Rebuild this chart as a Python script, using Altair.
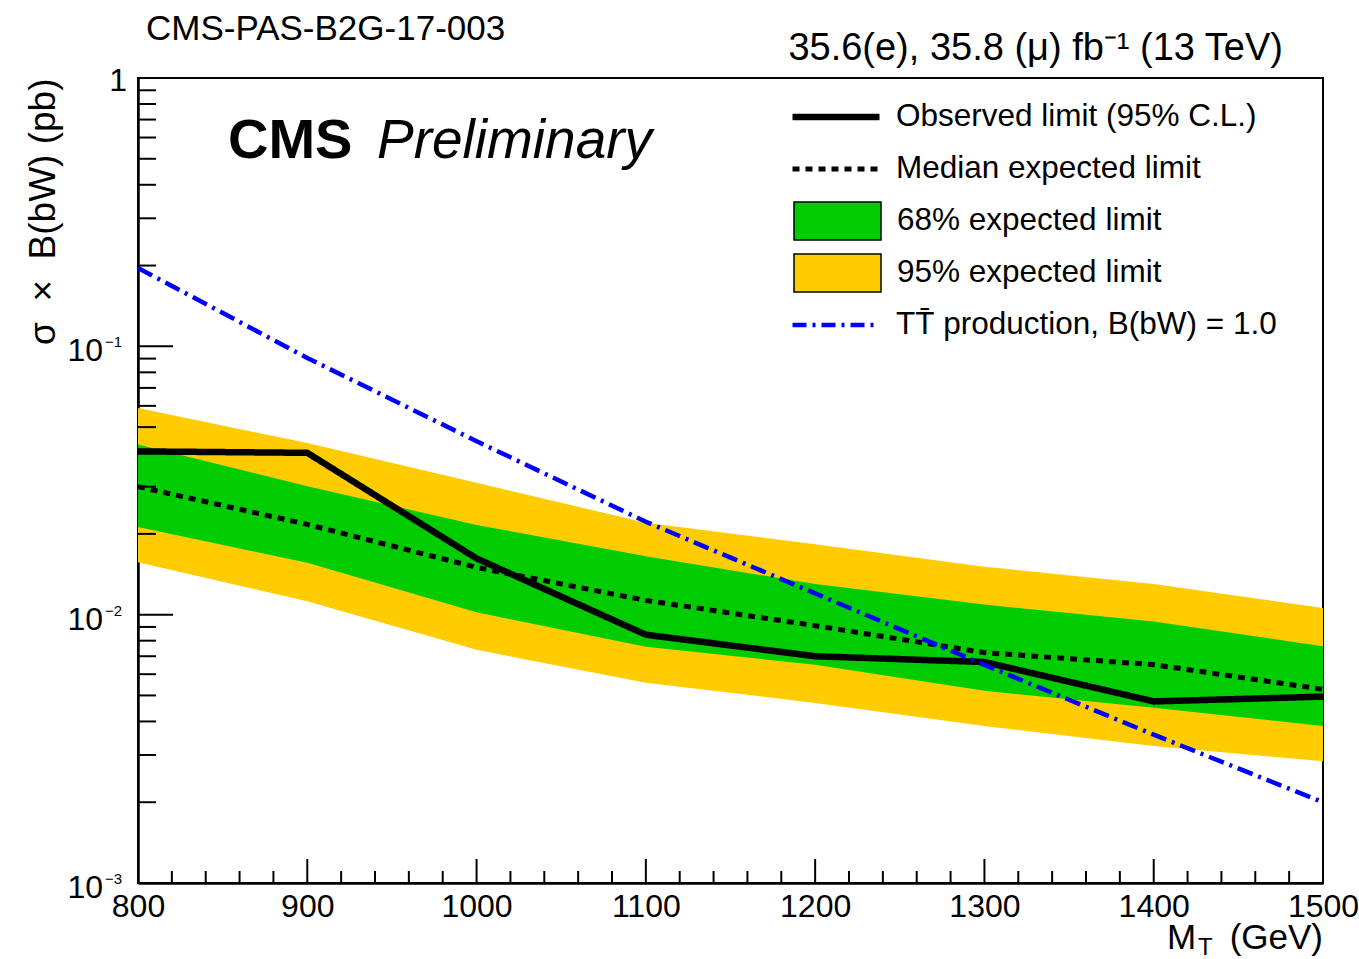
import altair as alt
import pandas as pd

# ---- limit results (pb) vs. T mass (GeV) ----
mass = [800, 900, 1000, 1100, 1200, 1300, 1400, 1500]
observed = [0.0406, 0.0401, 0.0162, 0.00842, 0.0070, 0.00666, 0.00475, 0.00495]
expected = [0.0300, 0.0217, 0.0150, 0.0113, 0.0091, 0.00722, 0.00651, 0.00527]
exp68_lo = [0.0212, 0.0156, 0.0102, 0.0076, 0.0065, 0.0052, 0.0045, 0.00385]
exp68_hi = [0.0431, 0.0301, 0.0216, 0.0165, 0.0130, 0.0109, 0.00944, 0.00762]
exp95_lo = [0.01567, 0.01122, 0.0074, 0.00557, 0.00469, 0.00385, 0.00324, 0.00284]
exp95_hi = [0.0589, 0.0436, 0.0310, 0.0220, 0.0183, 0.0151, 0.0130, 0.0106]
xsec_tt = [0.196, 0.0905, 0.0443, 0.0222, 0.0120, 0.0065, 0.00357, 0.0020]

# ---- axis ticks ----
x_major = [800, 900, 1000, 1100, 1200, 1300, 1400, 1500]
x_minor = [m + d for m in range(800, 1500, 100) for d in (20, 40, 60, 80)]
y_decades = [0.001, 0.01, 0.1]
y_exponents = ["\u22123", "\u22122", "\u22121"]
y_top = [1.0]
y_major = y_decades + y_top
y_minor = [k * 10.0 ** e for e in (-3, -2, -1) for k in range(2, 10)]

# ---- legend labels ----
LINE_LABELS = ["Observed limit (95% C.L.)", "Median expected limit"]
BAND_LABELS = ["68% expected limit", "95% expected limit"]
TT_LABEL = "TT\u0304 production, B(bW) = 1.0"

GREEN = "#00cc00"
YELLOW = "#ffcc00"
BLUE = "#0000ff"
FONT = "Liberation Sans"
NBSP = "\u00a0"
W, H = 1185, 805

X_SCALE = alt.Scale(domain=[800, 1500], nice=False, zero=False)
Y_SCALE = alt.Scale(type="log", domain=[0.001, 1], nice=False)

x_axis = alt.Axis(
    values=x_major, format="d", title=None, ticks=False, tickSize=0, grid=False,
    labelFont=FONT, labelFontSize=32, labelColor="black", labelPadding=8,
    labelFlush=False, labelOverlap=False, domainColor="black", domainWidth=2.5,
)
# y labels are drawn as text layers (base + exponent); the axis keeps line and title
y_axis = alt.Axis(
    values=y_major, ticks=False, tickSize=0, grid=False, labels=False,
    domainColor="black", domainWidth=2.5,
    title="\u03c3" + NBSP * 2 + "\u00d7" + NBSP * 2 + "B(bW)" + NBSP + "(pb)",
    titleFont=FONT, titleFontSize=37,
    titleFontWeight="normal", titleColor="black", titleAngle=270,
    titleAlign="right", titleBaseline="middle", titleX=-95, titleY=0,
)

LEG_COMMON = dict(
    orient="none", title=None, labelFont=FONT, labelFontSize=31.5,
    labelColor="black", labelLimit=700, padding=0,
    clipHeight=40, rowPadding=12, symbolSize=7569,
)

line_legend = alt.Legend(
    legendX=651, legendY=19, labelOffset=13, symbolType="stroke",
    symbolStrokeColor="black", **LEG_COMMON,
)
band_legend = alt.Legend(
    legendX=655, legendY=123, labelOffset=15, symbolType="M-1,-0.437H1V0.437H-1Z",
    symbolStrokeColor="black", symbolStrokeWidth=1.5, symbolOpacity=1,
    **LEG_COMMON,
)
tt_legend = alt.Legend(
    legendX=652, legendY=227, labelOffset=14, symbolType="stroke",
    symbolDash=[14, 6, 3, 6], symbolStrokeWidth=4.5, **LEG_COMMON,
)


def band(lo, hi, label):
    df = pd.DataFrame({"mass": mass, "lo": lo, "hi": hi, "band": label})
    return alt.Chart(df).mark_area(interpolate="linear", opacity=1).encode(
        x=alt.X("mass:Q", scale=X_SCALE, axis=x_axis),
        y=alt.Y("lo:Q", scale=Y_SCALE, axis=y_axis),
        y2="hi:Q",
        fill=alt.Fill("band:N", scale=alt.Scale(domain=BAND_LABELS, range=[GREEN, YELLOW]),
                      legend=band_legend),
    )


band95 = band(exp95_lo, exp95_hi, BAND_LABELS[1])
band68 = band(exp68_lo, exp68_hi, BAND_LABELS[0])

lines_df = pd.concat([
    pd.DataFrame({"mass": mass, "xs": expected, "series": LINE_LABELS[1]}),
    pd.DataFrame({"mass": mass, "xs": observed, "series": LINE_LABELS[0]}),
])
limit_lines = alt.Chart(lines_df).mark_line(stroke="black", strokeCap="butt").encode(
    x=alt.X("mass:Q", scale=X_SCALE, axis=x_axis),
    y=alt.Y("xs:Q", scale=Y_SCALE, axis=y_axis),
    detail="series:N",
    strokeDash=alt.StrokeDash("series:N", scale=alt.Scale(domain=LINE_LABELS, range=[[1, 0], [7, 6]]),
                              legend=line_legend),
    strokeWidth=alt.StrokeWidth("series:N", scale=alt.Scale(domain=LINE_LABELS, range=[6.5, 5]),
                                legend=line_legend),
)

tt_df = pd.DataFrame({"mass": mass, "xs": xsec_tt, "proc": TT_LABEL})
tt_line = alt.Chart(tt_df).mark_line(strokeWidth=4.5, strokeDash=[16, 6, 3, 6], strokeCap="butt").encode(
    x=alt.X("mass:Q", scale=X_SCALE, axis=x_axis),
    y=alt.Y("xs:Q", scale=Y_SCALE, axis=y_axis),
    stroke=alt.Stroke("proc:N", scale=alt.Scale(domain=[TT_LABEL], range=[BLUE]), legend=tt_legend),
)


def x_ticks(vals, length):
    return alt.Chart(pd.DataFrame({"mass": vals})).mark_rule(color="black", strokeWidth=2).encode(
        x=alt.X("mass:Q", scale=X_SCALE, axis=x_axis),
        y=alt.value(H), y2=alt.value(H - length),
    )


def y_ticks(vals, length):
    return alt.Chart(pd.DataFrame({"v": vals})).mark_rule(color="black", strokeWidth=2).encode(
        y=alt.Y("v:Q", scale=Y_SCALE, axis=y_axis),
        x=alt.value(0), x2=alt.value(length),
    )


def y_label(vals, texts, x, size, align, dy):
    df = pd.DataFrame({"v": vals, "t": texts})
    return alt.Chart(df).mark_text(
        font=FONT, fontSize=size, align=align, baseline="middle", dy=dy, color="black",
    ).encode(
        y=alt.Y("v:Q", scale=Y_SCALE, axis=y_axis),
        x=alt.value(x),
        text="t:N",
    )


def label(text, x, y, size, align="left", weight="normal", style="normal"):
    return alt.Chart(alt.Data(values=[{}])).mark_text(
        text=text, font=FONT, fontSize=size, fontWeight=weight, fontStyle=style,
        align=align, baseline="alphabetic", color="black",
    ).encode(x=alt.value(x), y=alt.value(y))


y_labels = [
    y_label(y_decades, ["10"] * len(y_decades), -35, 32, "right", 5),
    y_label(y_decades, y_exponents, -33, 15, "left", -4),
    y_label(y_top, ["1"], -11, 32, "right", 3),
]

texts = [
    label("CMS", 90, 80, 56, weight="bold"),
    label("Preliminary", 239, 80, 55, style="italic"),
    label("CMS-PAS-B2G-17-003", 8, -38, 35),
    label("35.6(e), 35.8 (\u03bc) fb\u207b\u00b9 (13 TeV)", 1145, -18, 38, align="right"),
    label("M", 1029, 871, 35),
    label("T", 1060, 877, 24),
    label("(GeV)", 1185, 871, 35, align="right"),
]

chart = alt.layer(
    band95, band68, limit_lines, tt_line,
    x_ticks(x_major, 24), x_ticks(x_minor, 12),
    y_ticks(y_major, 35), y_ticks(y_minor, 18),
    *y_labels,
    *texts,
).properties(
    width=W, height=H,
    padding={"left": 138, "top": 78, "right": 36, "bottom": 76},
    autosize=alt.AutoSizeParams(type="none"),
    background="white",
).configure_view(
    stroke="black", strokeWidth=2,
)

chart.save("out.html", embed_options={"renderer": "svg", "actions": False})
